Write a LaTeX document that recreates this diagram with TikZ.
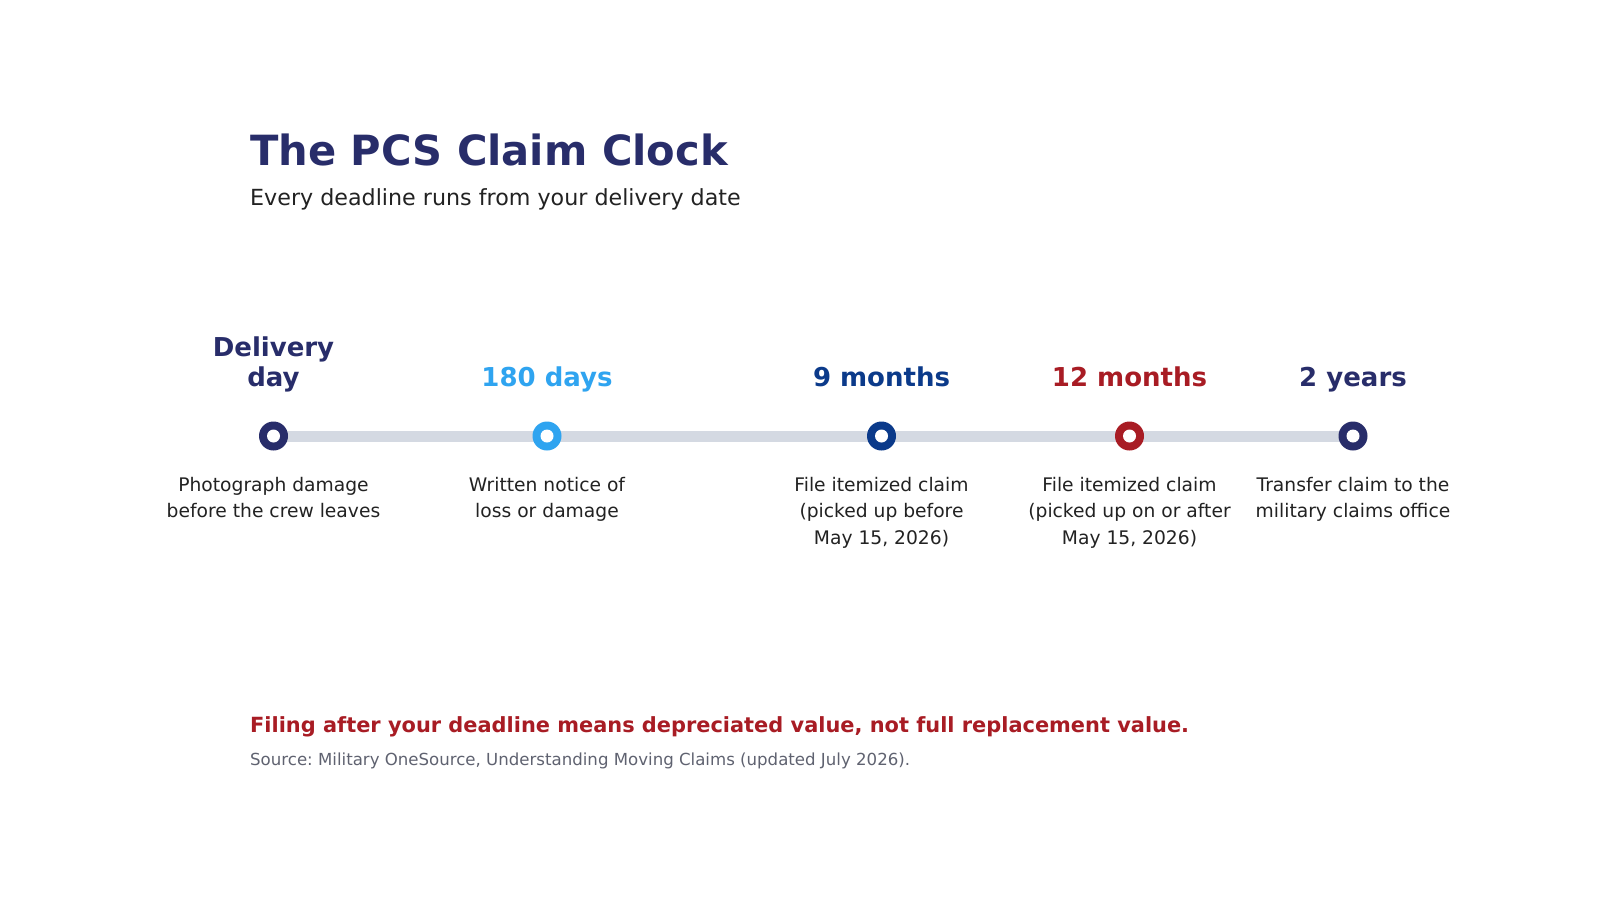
\documentclass[tikz,border=0pt]{standalone}
\usepackage{fontspec}
\setmainfont{DejaVu Sans}
\frenchspacing
\definecolor{navy}{HTML}{282D6A}
\definecolor{skyb}{HTML}{2FA4F0}
\definecolor{deepb}{HTML}{0B3A8A}
\definecolor{crim}{HTML}{A81C24}
\definecolor{ink}{HTML}{222222}
\definecolor{greytx}{HTML}{5F6270}
\definecolor{track}{HTML}{D4D9E2}
\tikzset{
  toplbl/.style={anchor=base, align=center, inner sep=0pt, font=\fontsize{26}{30}\selectfont\bfseries},
  botlbl/.style={anchor=base, align=center, inner sep=0pt, text=ink, font=\fontsize{18.7}{26.5}\selectfont},
  dotc/.style={circle, inner sep=0pt, minimum size=29pt, fill=#1},
  hole/.style={circle, inner sep=0pt, minimum size=13pt, fill=white}
}
\begin{document}
\begin{tikzpicture}[x=1pt,y=-1pt]
\useasboundingbox[fill=white] (0,0) rectangle (1600,900);
\node[anchor=base west, inner sep=0pt, text=navy, font=\fontsize{41.6}{48}\selectfont\bfseries] (title) at (250,165) {The PCS Claim Clock};
\node[anchor=base west, inner sep=0pt, text=ink, font=\fontsize{22.2}{26}\selectfont] (sub) at (250,205) {Every deadline runs from your delivery date};
% milestone points
\coordinate (p1) at (273.5,436);
\coordinate (p2) at (547,436);
\coordinate (p3) at (881.5,436);
\coordinate (p4) at (1129.5,436);
\coordinate (p5) at (1353,436);
\draw[track, line width=11pt] (p1) -- (p5);
\node[dotc=navy] (d1) at (p1) {}; \node[hole] at (p1) {};
\node[dotc=skyb] (d2) at (p2) {}; \node[hole] at (p2) {};
\node[dotc=deepb] (d3) at (p3) {}; \node[hole] at (p3) {};
\node[dotc=crim] (d4) at (p4) {}; \node[hole] at (p4) {};
\node[dotc=navy] (d5) at (p5) {}; \node[hole] at (p5) {};
% top labels (base anchor = last line baseline)
\node[toplbl, text=navy] (t1) at (273.5,386) {Delivery\\day};
\node[toplbl, text=skyb] (t2) at (547,386) {180 days};
\node[toplbl, text=deepb] (t3) at (881.5,386) {9 months};
\node[toplbl, text=crim] (t4) at (1129.5,386) {12 months};
\node[toplbl, text=navy] (t5) at (1353,386) {2 years};
% bottom labels
\node[botlbl] (b1) at (273.5,517.5) {Photograph damage\\before the crew leaves};
\node[botlbl] (b2) at (547,517.5) {Written notice of\\loss or damage};
\node[botlbl] (b3) at (881.5,544) {File itemized claim\\(picked up before\\May 15, 2026)};
\node[botlbl] (b4) at (1129.5,544) {File itemized claim\\(picked up on or after\\May 15, 2026)};
\node[botlbl] (b5) at (1353,517.5) {Transfer claim to the\\military claims office};
% footer
\node[anchor=base west, inner sep=0pt, text=crim, font=\fontsize{20.9}{24}\selectfont\bfseries] (warn) at (250,732) {Filing after your deadline means depreciated value, not full replacement value.};
\node[anchor=base west, inner sep=0pt, text=greytx, font=\fontsize{16.6}{20}\selectfont] (src) at (250,765) {Source: Military OneSource, Understanding Moving Claims (updated July 2026).};
\end{tikzpicture}
\end{document}
